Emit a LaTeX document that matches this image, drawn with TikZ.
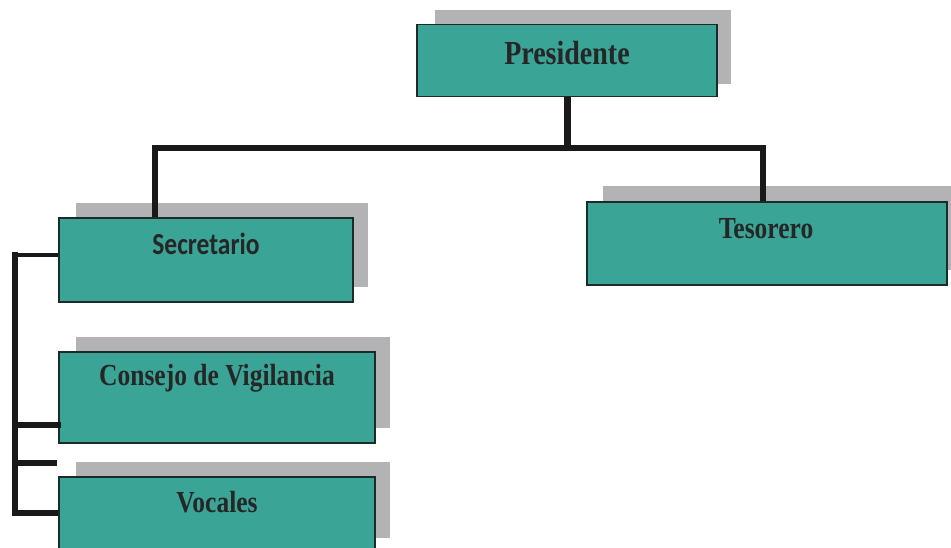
\documentclass[tikz,border=0pt]{standalone}
\usepackage{fontspec}
\setmainfont{Liberation Serif}
\newfontfamily\calib{Carlito}
\definecolor{tealbox}{HTML}{3AA596}
\definecolor{shadowgray}{HTML}{B3B2B4}
\definecolor{edge}{HTML}{1C2A28}
\tikzset{
  boxshape/.style={draw=edge, line width=1.4pt, fill=tealbox, rectangle, inner sep=0pt},
  shadowbox/.style={fill=shadowgray},
  lbl/.style={font=\bfseries\fontsize{25.5}{28}\selectfont, text=black!85, inner sep=0pt},
  conn/.style={line width=5.5pt, draw=black!90},
}
\newcommand{\tall}[1]{\scalebox{1}[1.2]{#1}}
\begin{document}
\begin{tikzpicture}[x=1pt,y=-1pt]
\useasboundingbox (0,0) rectangle (951,548);
\clip (0,0) rectangle (951,548);
% shadows
\fill[shadowbox] (435,10) rectangle (731,84);
\fill[shadowbox] (76,203) rectangle (368,287);
\fill[shadowbox] (76,337) rectangle (390,428);
\fill[shadowbox] (76,462) rectangle (390,538);
\fill[shadowbox] (603,186) rectangle (951,270);
% boxes
\node[boxshape, minimum width=300pt, minimum height=72pt] (pres) at (567,60.5) {};
\node[boxshape, minimum width=294pt, minimum height=84pt] (sec) at (206,260) {};
\node[boxshape, minimum width=316pt, minimum height=91pt] (cons) at (217,397.5) {};
\node[boxshape, minimum width=316pt, minimum height=90pt] (voc) at (217,522) {};
\node[boxshape, minimum width=360pt, minimum height=83pt] (tes) at (767,243.5) {};
% labels
\node[lbl] (presT) at (567,53) {\tall{\fontsize{28}{30}\selectfont Presidente}};
\node[lbl] (secT) at (206,244) {\tall{\calib\bfseries Secretario}};
\node[lbl] (consT) at (217,378) {\tall{Consejo de Vigilancia}};
\node[lbl] (vocT) at (217,502) {\tall{Vocales}};
\node[lbl] (tesT) at (766,229) {\tall{Tesorero}};
% connectors
\coordinate (hl) at (155,148);
\coordinate (hr) at (763,148);
\coordinate (bt) at (15,255);
\coordinate (bc) at (15,425);
\coordinate (bs) at (15,463);
\coordinate (bstub) at (57,463);
\coordinate (bb) at (15,513);
\draw[conn, line width=7pt] (pres.south) -- (pres.south |- hl);
\draw[conn] ([xshift=-2.75pt]hl) -- ([xshift=2.75pt]hr);
\draw[conn] ([yshift=2.75pt]hl) -- (hl |- sec.north);
\draw[conn] ([yshift=2.75pt]hr) -- (hr |- tes.north);
\draw[conn] ([yshift=2.75pt]bt) -- ([yshift=-2.75pt]bb);
\draw[conn, line width=4.5pt] (bt) -- (bt -| sec.west);
\draw[conn] (bc) -- ([xshift=3pt]bc -| cons.west);
\draw[conn] (bs) -- (bstub);
\draw[conn] (bb) -- (bb -| voc.west);
\end{tikzpicture}
\end{document}
